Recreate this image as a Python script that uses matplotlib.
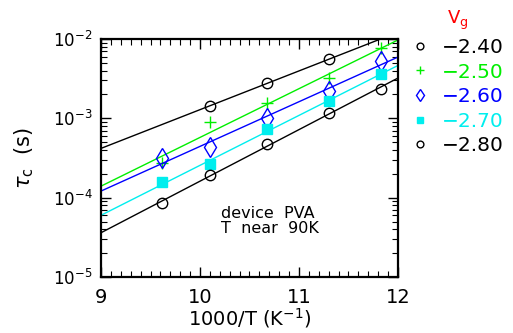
import numpy as np
import matplotlib.pyplot as plt
from matplotlib.lines import Line2D

# 1000/T positions of the measurements
invT = [9.62, 10.10, 10.68, 11.30, 11.83]

vg_labels = ['\u22122.40', '\u22122.50', '\u22122.60', '\u22122.70', '\u22122.80']
colors = ['black', '#00ee00', '#0000ff', '#00eeee', 'black']

# tau_c (s) for each gate voltage (None = outside plot range)
tau_240 = [None, 1.44e-3, 2.76e-3, 5.55e-3, None]
tau_250 = [2.70e-4, 8.9e-4, 1.55e-3, 3.19e-3, 7.77e-3]
tau_260 = [3.18e-4, 4.38e-4, 1.0e-3, 2.23e-3, 5.33e-3]
tau_270 = [1.56e-4, 2.63e-4, 7.33e-4, 1.67e-3, 3.62e-3]
tau_280 = [8.6e-5, 1.93e-4, 4.7e-4, 1.18e-3, 2.34e-3]

series = [tau_240, tau_250, tau_260, tau_270, tau_280]
markers = ['o', '+', 'd', 's', 'o']
msizes = [7.5, 9, 10, 6.5, 7.5]
fills = ['none', 'full', 'none', 'full', 'none']

fig = plt.figure(figsize=(5.13, 3.33), dpi=100)
ax = fig.add_axes([0.1969, 0.1682, 0.5789, 0.7147])

handles = []
for tau, c, m, ms, f, lab in zip(series, colors, markers, msizes, fills, vg_labels):
    x = np.array([xi for xi, t in zip(invT, tau) if t is not None])
    y = np.array([t for t in tau if t is not None])
    mfc = 'none' if f == 'none' else c
    ax.plot(x, y, linestyle='none', marker=m, ms=ms, mec=c, mfc=mfc, mew=1.0)
    p = np.polyfit(x, np.log10(y), 1)
    xx = np.array([9.0, 12.0])
    ax.plot(xx, 10 ** np.polyval(p, xx), color=c, lw=1.0)
    handles.append(Line2D([], [], linestyle='none', marker=m, ms=ms * 0.65,
                          mec=c, mfc=mfc, mew=1.0, label=lab))

ax.set_yscale('log')
ax.set_xlim(9, 12)
ax.set_ylim(1e-5, 1e-2)
ax.set_xticks([9, 10, 11, 12])
ax.set_xticks(np.arange(9, 12.01, 0.1), minor=True)
ax.tick_params(which='both', direction='in', top=True, right=True)
ax.tick_params(which='major', length=7, width=1)
ax.tick_params(which='minor', length=4.5, width=0.8)
ax.tick_params(axis='x', labelsize=14, pad=8)
ax.tick_params(axis='y', labelsize=12, pad=6)
for s in ax.spines.values():
    s.set_linewidth(1.6)

ax.set_xlabel('1000/T (K$^{-1}$)', fontsize=14, labelpad=-1)
ax.set_ylabel(r'$\tau_{\rm c}$  (s)', fontsize=15, labelpad=12)

ax.text(0.404, 0.235, 'device  PVA\nT  near  90K', transform=ax.transAxes,
        fontsize=11.5, ha='left', va='center', multialignment='left',
        linespacing=1.05)

leg = ax.legend(handles=handles, loc='upper left', bbox_to_anchor=(1.0, 1.185),
                frameon=False, fontsize=14.5, labelcolor=colors, title='V$_{\\rm g}$',
                title_fontsize=13, handlelength=0.8, handletextpad=0.7,
                labelspacing=0.28, borderaxespad=0.3)
leg.get_title().set_color('red')

fig.savefig('out.png', dpi=100)
